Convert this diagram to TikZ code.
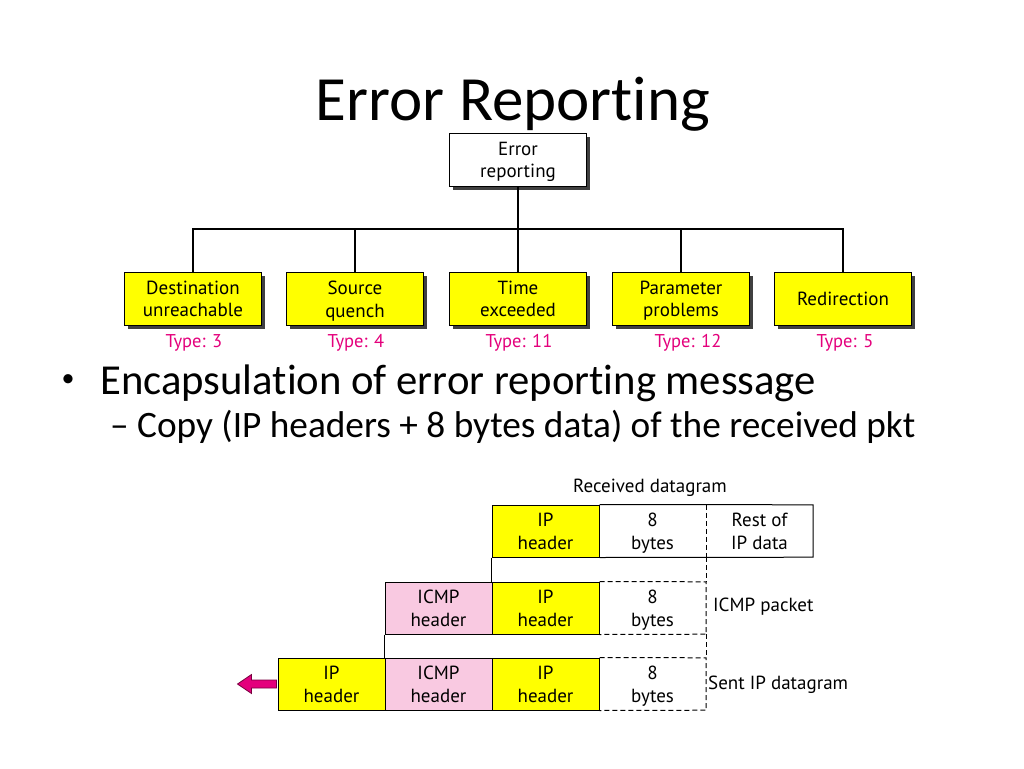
\documentclass[tikz,border=0pt]{standalone}
\usepackage{fontspec}
\setmainfont[Ligatures={NoCommon}]{Carlito}
\newfontfamily\diagfont{PT Sans}
\usetikzlibrary{shadows,calc}
\definecolor{boxyellow}{HTML}{FFFF00}
\definecolor{boxpink}{HTML}{F9C9E1}
\definecolor{typemag}{HTML}{E4007C}
\definecolor{arrowedge}{HTML}{7A0040}
\begin{document}
\begin{tikzpicture}[x=1pt,y=-1pt,
  treebox/.style={draw=black,line width=1.1pt,minimum width=137pt,minimum height=53pt,
    align=center,inner sep=0pt,font=\diagfont\fontsize{19}{22.5}\selectfont,
    text depth=0pt,
    drop shadow={shadow xshift=3pt,shadow yshift=-3pt,fill=black!75,opacity=1}},
  leaf/.style={treebox,fill=boxyellow},
  typelbl/.style={text=typemag,font=\diagfont\fontsize{18.5}{20}\selectfont},
  link/.style={line width=1.1pt},
  cell/.style={minimum width=107pt,minimum height=52pt,inner sep=0pt,align=center,
    font=\diagfont\fontsize{19}{23}\selectfont,text depth=0pt},
  ycell/.style={cell,fill=boxyellow,draw=black,line width=1pt},
  pcell/.style={cell,fill=boxpink,draw=black,line width=1pt},
  ecell/.style={cell},
  dline/.style={line width=1pt,dash pattern=on 5pt off 3pt},
  sline/.style={line width=1pt},
  dlabel/.style={font=\diagfont\fontsize{19}{22}\selectfont,inner sep=0pt},
  bullettext/.style={anchor=base west,inner sep=0pt},
  arrowfill/.style={fill=typemag,draw=arrowedge,line width=0.8pt}
]
\useasboundingbox (0,0) rectangle (1024,768);
\fill[white] (0,0) rectangle (1024,768);

% title
\node[anchor=base,font=\fontsize{63}{70}\selectfont] (title) at (513,120) {Error Reporting};

% tree
\node[treebox,fill=white] (root) at (518,160) {Error\\reporting};
\node[leaf] (c1) at (193,299) {Destination\\unreachable};
\node[leaf] (c2) at (355,299) {Source\\quench};
\node[leaf] (c3) at (518,299) {Time\\exceeded};
\node[leaf] (c4) at (681,299) {Parameter\\problems};
\node[leaf] (c5) at (843,299) {Redirection};
\coordinate (bus) at (518,229);
\draw[link] (root.south) -- (bus);
\draw[link] (c1.north) |- (bus) -| (c5.north);
\foreach \c in {c2,c3,c4} \draw[link] (\c.north) -- (\c.north |- bus);
\node[typelbl] (t1) at (194,343) {Type: 3};
\node[typelbl] (t2) at (356,343) {Type: 4};
\node[typelbl] (t3) at (519,343) {Type: 11};
\node[typelbl] (t4) at (688,343) {Type: 12};
\node[typelbl] (t5) at (845,343) {Type: 5};

% bullets
\node[inner sep=0pt,font=\fontsize{26}{30}\selectfont] (b1) at (68,381) {•};
\node[bullettext,font=\fontsize{42.7}{48}\selectfont] (b1t) at (100,394) {Encapsulation of error reporting message};
\node[bullettext,font=\fontsize{37.3}{42}\selectfont] (b2) at (110,437) {–};
\node[bullettext,font=\fontsize{37.3}{42}\selectfont] (b2t) at (137,437) {Copy (IP headers + 8 bytes data) of the received pkt};

% encapsulation diagram
\node[dlabel] (lrecv) at (650,488) {Received datagram};
% row 1
\node[ycell] (r1ip) at (545.5,531) {IP\\header};
\node[ecell] (r1b) at (652.5,531) {8\\bytes};
\node[ecell] (r1r) at (759.5,531) {Rest of\\IP data};
\draw[sline] (r1ip.north east) -- (r1r.north east) -- (r1r.south east) -- (r1ip.south east);
\draw[dline] (r1b.north east) -- (r1b.south east);
% row 2
\node[pcell] (r2icmp) at (438.5,608) {ICMP\\header};
\node[ycell] (r2ip) at (545.5,608) {IP\\header};
\node[ecell] (r2b) at (652.5,608) {8\\bytes};
\draw[dline] (r2ip.north east) -- (r2b.north east) -- (r2b.south east) -- (r2ip.south east);
\node[dlabel,anchor=west] (lpkt) at (713,607) {ICMP packet};
% row 3
\node[ycell] (r3ip) at (331.5,684) {IP\\header};
\node[pcell] (r3icmp) at (438.5,684) {ICMP\\header};
\node[ycell] (r3ip2) at (545.5,684) {IP\\header};
\node[ecell] (r3b) at (652.5,684) {8\\bytes};
\draw[dline] (r3ip2.north east) -- (r3b.north east) -- (r3b.south east) -- (r3ip2.south east);
\node[dlabel,anchor=west] (lsent) at (708,685) {Sent IP datagram};
% connectors between rows
\draw[sline] (r1ip.south west) -- (r2ip.north west);
\draw[dline] (r1b.south east) -- (r2b.north east);
\draw[sline] (r2icmp.south west) -- (r3icmp.north west);
\draw[dline] (r2b.south east) -- (r3b.north east);
% outgoing arrow
\filldraw[arrowfill,shift={(r3ip.west)}] (-1,-4) -- (-26,-4) -- (-26,-9.5) -- (-40,0) -- (-26,9.5) -- (-26,4) -- (-1,4) -- cycle;
\end{tikzpicture}
\end{document}
